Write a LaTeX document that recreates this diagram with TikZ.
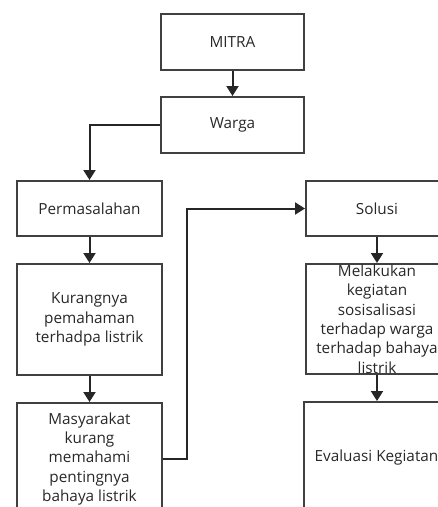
\documentclass[tikz,border=0pt]{standalone}
\usepackage{fontspec}
\setmainfont{Open Sans}
\definecolor{boxline}{RGB}{64,64,64}
\definecolor{boxtext}{RGB}{40,40,40}
\usetikzlibrary{arrows.meta,positioning}

\begin{document}
\begin{tikzpicture}[x=1pt, y=-1pt,
    box/.style={draw=boxline, line width=2pt, fill=white, inner sep=0pt,
      align=center, text=boxtext, font=\fontsize{15.3}{19.4}\selectfont},
    arr/.style={-{Triangle[length=10pt, width=12pt]}, line width=2pt, draw=black!85}]
    \useasboundingbox (0, 0) rectangle (438, 507);
    \clip (0, 0) rectangle (438, 507);

    % Top of the flow
    \node[box, minimum width=143pt, minimum height=56pt] (mitra) at (232.5, 42) {MITRA};
    \node[box, minimum width=143pt, minimum height=56pt] (warga) at (232.5, 125) {Warga};

    % Left column: problems
    \node[box, minimum width=145pt, minimum height=55pt] (masalah) at (89.5, 208.5) {Permasalahan};
    \node[box, minimum width=145pt, minimum height=111pt] (kurang) at (89.5, 319.5)
      {Kurangnya\\pemahaman\\terhadpa listrik};
    \node[box, minimum width=145pt, minimum height=112pt] (masyarakat) at (89.5, 459)
      {Masyarakat\\kurang\\memahami\\pentingnya\\bahaya listrik};

    % Right column: solutions
    \node[box, minimum width=142pt, minimum height=55pt] (solusi) at (377, 208.5) {Solusi};
    \node[box, minimum width=142pt, minimum height=110pt] (kegiatan) at (377, 319)
      {Melakukan\\kegiatan\\sosisalisasi\\terhadap warga\\terhadap bahaya\\listrik};
    \node[box, minimum width=145pt, minimum height=112pt] (evaluasi) at (376.5, 458)
      {Evaluasi Kegiatan};

    % Connectors
    \draw[arr] (mitra) -- (warga);
    \draw[arr] (warga.west) -| (masalah.north);
    \draw[arr] (masalah) -- (kurang);
    \draw[arr] (kurang) -- (masyarakat);
    \draw[arr] (masyarakat.east) -- ++(24, 0) |- (solusi.west);
    \draw[arr] (solusi) -- (kegiatan);
    \draw[arr] (kegiatan.south) -- (kegiatan.south |- evaluasi.north);
  \end{tikzpicture}
\end{document}
